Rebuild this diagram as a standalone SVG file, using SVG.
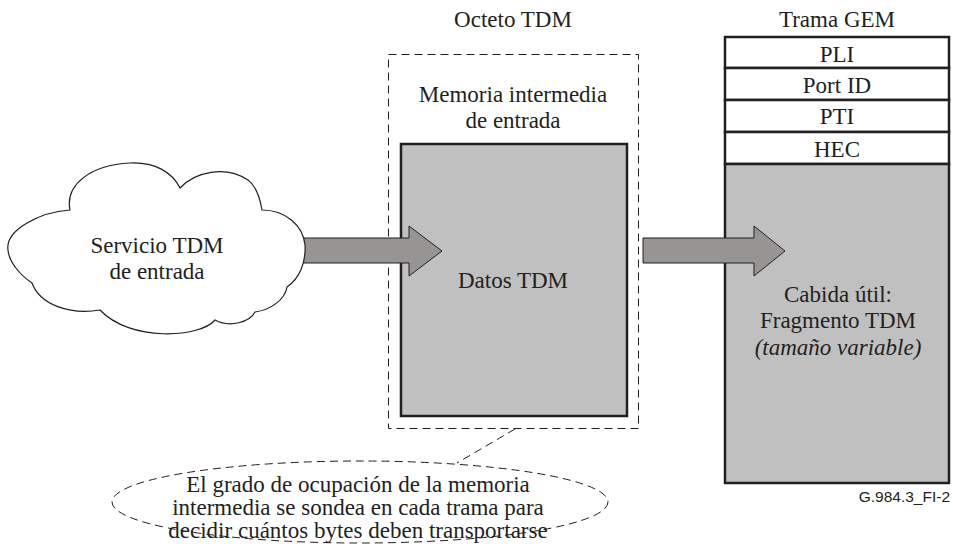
<svg xmlns="http://www.w3.org/2000/svg" width="953" height="544" viewBox="0 0 953 544">
<style>
  .t { font-size: 23px; fill: #231f20; text-anchor: middle; }
  .it { font-style: italic; }
  .code { font-size: 15.5px; fill: #231f20; text-anchor: end; }
  .dash { fill: none; stroke: #231f20; stroke-width: 1; stroke-dasharray: 8 5; }
  .gray { fill: #c0c0c0; stroke: #231f20; stroke-width: 2.5; }
  .row { fill: #ffffff; stroke: #231f20; stroke-width: 2.5; }
  .arrow { fill: #969594; stroke: #231f20; stroke-width: 1; }
  .cloud { fill: #ffffff; stroke: #231f20; stroke-width: 1.2; }
</style>

<g font-family="Liberation Serif, Tinos, Times New Roman, Times, DejaVu Serif, serif">
<g id="buffer">
  <text class="t" x="513" y="27">Octeto TDM</text>
  <rect class="dash" x="388.5" y="54.5" width="250" height="374"/>
  <text class="t" x="513" y="102">Memoria intermedia</text>
  <text class="t" x="513" y="128">de entrada</text>
  <rect class="gray" x="401" y="144" width="226" height="272"/>
  <text class="t" x="513" y="288">Datos TDM</text>
</g>

<g id="gem-frame">
  <text class="t" x="837" y="27">Trama GEM</text>
  <rect class="row" x="725" y="37" width="224" height="31"/>
  <rect class="row" x="725" y="68" width="224" height="32"/>
  <rect class="row" x="725" y="100" width="224" height="32"/>
  <rect class="row" x="725" y="132" width="224" height="32"/>
  <rect class="gray" x="725" y="164" width="224" height="319"/>
  <text class="t" x="837" y="62">PLI</text>
  <text class="t" x="837" y="93">Port ID</text>
  <text class="t" x="837" y="124">PTI</text>
  <text class="t" x="837" y="157">HEC</text>
  <text class="t" x="838" y="302">Cabida útil:</text>
  <text class="t" x="838" y="328">Fragmento TDM</text>
  <text class="t it" x="838" y="355">(tamaño variable)</text>
</g>

<g id="connectors">
  <path class="arrow" d="M290,238 H409 V226 L442,251 L409,276 V263 H290 Z"/>
  <path class="arrow" d="M643,238 H754 V226 L785,251 L754,276 V263 H643 Z"/>
  <path class="dash" d="M515,429 L457,463"/>
</g>

<g id="cloud">
  <path class="cloud" d="M8,250 C5,230 40,212 70,210 C65,185 90,165 130,163 C155,162 172,172 180,188 C195,172 225,165 248,180 C256,186 260,198 262,210 C285,210 303,225 305,245 C306,262 300,278 287,287 C285,300 270,310 255,312 C250,322 230,328 215,320 C200,338 130,342 100,310 C70,315 40,305 32,283 C20,275 9,262 8,250 Z"/>
  <text class="t" x="157" y="253">Servicio TDM</text>
  <text class="t" x="157" y="279">de entrada</text>
</g>

<g id="note">
  <ellipse class="dash" cx="360" cy="502" rx="248" ry="41"/>
  <text class="t" x="358" y="492">El grado de ocupación de la memoria</text>
  <text class="t" x="358" y="515">intermedia se sondea en cada trama para</text>
  <text class="t" x="358" y="538">decidir cuántos bytes deben transportarse</text>
</g>
</g>

<text class="code" font-family="Liberation Sans, Arial, sans-serif" x="950" y="502">G.984.3_FI-2</text>
</svg>
